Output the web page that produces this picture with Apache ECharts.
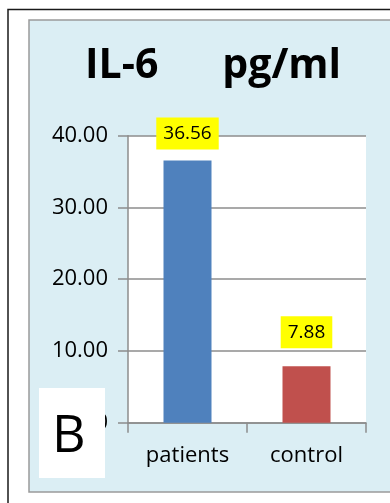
<!DOCTYPE html>
<html>
<head>
<meta charset="utf-8">
<script src="https://cdn.jsdelivr.net/npm/echarts@6/dist/echarts.min.js"></script>
<style>
  html, body { margin: 0; padding: 0; background: #fff; }
  #chart { width: 390px; height: 503px; }
</style>
</head>
<body>
<div id="chart"></div>
<script>
// data
var categories = ['patients', 'control'];
var il6Values = [36.56, 7.88];
var yTicks = [0, 10, 20, 30, 40];

var barColors = ['#4F81BD', '#C0504D'];
var fontName = 'Open Sans';

function renderChartIL6() {
    var dom = document.getElementById('chart');
    var myChart = echarts.init(dom);

    var option = {
        backgroundColor: '#ffffff',
        animation: false,
        title: {
            text: 'IL-6      pg/ml',
            left: 80,
            top: 41,
            textStyle: {
                fontFamily: fontName,
                fontWeight: 'bold',
                fontSize: 41,
                color: '#000'
            }
        },
        grid: {
            left: 128,
            right: 24,
            top: 135.7,
            bottom: 80.3,
            show: true,
            backgroundColor: '#ffffff',
            borderWidth: 0
        },
        xAxis: {
            type: 'category',
            data: categories,
            axisLine: { lineStyle: { color: '#8c8c8c', width: 1.5 } },
            axisTick: { show: true, length: 10, lineStyle: { color: '#8c8c8c', width: 1.5 } },
            axisLabel: {
                margin: 22,
                fontFamily: fontName,
                fontSize: 22,
                color: '#000'
            }
        },
        yAxis: {
            type: 'value',
            min: yTicks[0],
            max: yTicks[yTicks.length - 1],
            interval: yTicks[1] - yTicks[0],
            axisLine: { show: true, lineStyle: { color: '#8c8c8c', width: 1.5 } },
            axisTick: { show: true, length: 10, lineStyle: { color: '#8c8c8c', width: 1.5 } },
            splitLine: { lineStyle: { color: '#8c8c8c', width: 1.5 } },
            axisLabel: {
                margin: 20,
                fontFamily: fontName,
                fontSize: 22,
                color: '#000',
                formatter: function (v) { return v.toFixed(2); }
            }
        },
        series: [{
            type: 'bar',
            barWidth: 48,
            data: il6Values.map(function (v, i) {
                return {
                    value: v,
                    itemStyle: { color: barColors[i] },
                    label: { distance: i === 0 ? 11 : 18 }
                };
            }),
            label: {
                show: true,
                position: 'top',
                formatter: function (p) { return p.value.toFixed(2); },
                backgroundColor: '#FFFF00',
                padding: [5, 7],
                lineHeight: 22,
                fontFamily: fontName,
                fontSize: 19,
                color: '#000'
            }
        }],
        graphic: [
            {
                type: 'rect',
                z: -20,
                shape: { x: 8, y: 9.5, width: 420, height: 540 },
                style: { fill: '#ffffff', stroke: '#1a1a1a', lineWidth: 1.5 }
            },
            {
                type: 'rect',
                z: -10,
                shape: { x: 29, y: 20, width: 400, height: 472 },
                style: { fill: '#DBEEF4', stroke: '#9a9a9a', lineWidth: 1.5 }
            },
            {
                type: 'rect',
                z: 100,
                shape: { x: 39, y: 388, width: 66, height: 90 },
                style: { fill: '#ffffff' }
            },
            {
                type: 'text',
                z: 101,
                left: 52,
                top: 411,
                style: {
                    text: 'B',
                    fontFamily: fontName,
                    fontSize: 52,
                    fill: '#000'
                }
            }
        ]
    };

    if (option && typeof option === 'object') {
        myChart.setOption(option);
    }
}
renderChartIL6();
</script>
</body>
</html>
